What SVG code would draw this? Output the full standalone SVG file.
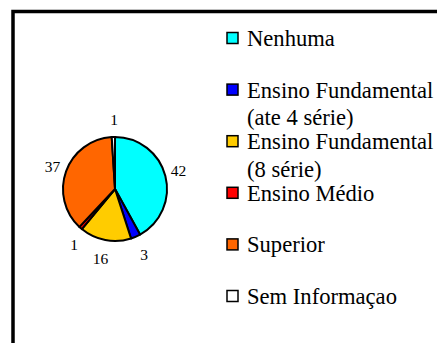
<svg xmlns="http://www.w3.org/2000/svg" width="437" height="343" viewBox="0 0 437 343">
<style>
.frame{fill:#fff;stroke:#000;stroke-width:3.5}
.slice{stroke:#000;stroke-width:2;stroke-linejoin:round}
.key{stroke:#000;stroke-width:1.5}
.leg{font-family:"Liberation Serif","Times New Roman",serif;font-size:22.6px;fill:#000}
.val{font-family:"Liberation Serif","Times New Roman",serif;font-size:15.5px;fill:#000;text-anchor:middle}
</style>
<rect x="0" y="0" width="437" height="343" fill="#fff"/>
<rect class="frame" x="13" y="11.5" width="440" height="340"/>
<g id="pie">
<g id="slice-nenhuma"><path class="slice" fill="#00FFFF" d="M115,189 L115,137 A52,52 0 0 1 140.05,234.57 Z"/></g>
<g id="slice-fund4"><path class="slice" fill="#0000FF" d="M115,189 L140.05,234.57 A52,52 0 0 1 131.07,238.46 Z"/></g>
<g id="slice-fund8"><path class="slice" fill="#FFCC00" d="M115,189 L131.07,238.46 A52,52 0 0 1 81.86,229.07 Z"/></g>
<g id="slice-medio"><path class="slice" fill="#FF0000" d="M115,189 L81.86,229.07 A52,52 0 0 1 79.41,226.91 Z"/></g>
<g id="slice-superior"><path class="slice" fill="#FF6600" d="M115,189 L79.41,226.91 A52,52 0 0 1 111.73,137.10 Z"/></g>
<g id="slice-sem"><path class="slice" fill="#FFFFFF" d="M115,189 L111.73,137.10 A52,52 0 0 1 115,137 Z"/></g>
</g>
<g id="values">
<text class="val" x="114" y="125">1</text>
<text class="val" x="178.5" y="176">42</text>
<text class="val" x="52.5" y="171.5">37</text>
<text class="val" x="74" y="250">1</text>
<text class="val" x="100.5" y="264">16</text>
<text class="val" x="144" y="260">3</text>
</g>
<g id="legend">
<g id="leg-nenhuma"><rect class="key" x="227" y="32.5" width="11" height="11" fill="#00FFFF"/><text class="leg" x="247" y="46">Nenhuma</text></g>
<g id="leg-fund4"><rect class="key" x="227" y="84.1" width="11" height="11" fill="#0000FF"/><text class="leg" x="247" y="97.6">Ensino Fundamental</text><text class="leg" x="247" y="125">(ate 4 série)</text></g>
<g id="leg-fund8"><rect class="key" x="227" y="135.7" width="11" height="11" fill="#FFCC00"/><text class="leg" x="247" y="149.2">Ensino Fundamental</text><text class="leg" x="247" y="176.5">(8 série)</text></g>
<g id="leg-medio"><rect class="key" x="227" y="187.3" width="11" height="11" fill="#FF0000"/><text class="leg" x="247" y="200.8">Ensino Médio</text></g>
<g id="leg-superior"><rect class="key" x="227" y="238.9" width="11" height="11" fill="#FF6600"/><text class="leg" x="247" y="252.4">Superior</text></g>
<g id="leg-sem"><rect class="key" x="227" y="290.5" width="11" height="11" fill="#FFFFFF"/><text class="leg" x="247" y="304">Sem Informaçao</text></g>
</g>
<g id="connectors"/>
</svg>
